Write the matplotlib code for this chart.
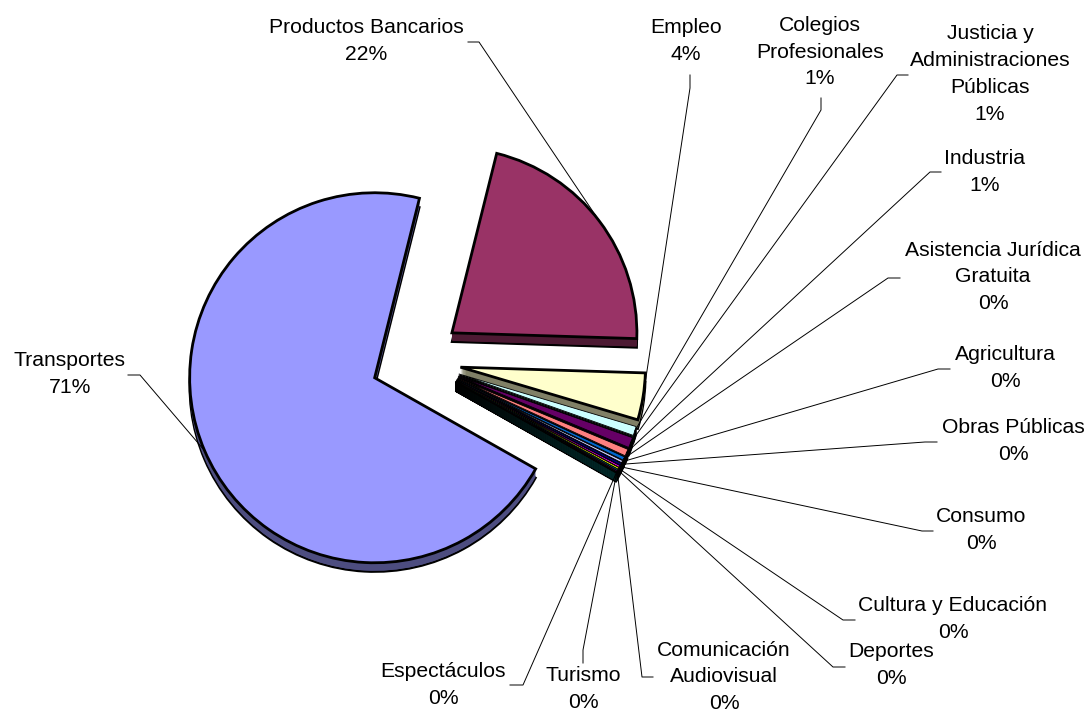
import numpy as np
import matplotlib.pyplot as plt
from matplotlib.patches import Wedge
from matplotlib.colors import to_rgb

# complaint share per sector (%)
categories = ['Transportes', 'Productos Bancarios', 'Empleo', 'Colegios\nProfesionales',
              'Justicia y\nAdministraciones\nPúblicas', 'Industria',
              'Asistencia Jurídica\nGratuita', 'Agricultura', 'Obras Públicas', 'Consumo',
              'Cultura y Educación', 'Deportes', 'Comunicación\nAudiovisual', 'Turismo',
              'Espectáculos']
shares = [70.7, 21.6, 4.1, 0.8, 0.9, 0.6, 0.3, 0.2, 0.2, 0.15, 0.15, 0.1, 0.1, 0.05, 0.05]
colors = ['#9999FF', '#993366', '#FFFFCC', '#CCFFFF', '#660066', '#FF8080', '#0066CC',
          '#CCCCFF', '#000080', '#FF00FF', '#FFFF00', '#00FFFF', '#800080', '#800000',
          '#008080']

# label block centres and leader-line elbows (pixel layout)
label_pos = [(70, 374), (366, 41), (686, 41), (820, 52), (990, 74), (985, 172),
             (993, 277), (1005, 368), (1013, 441), (981, 530), (953, 619), (891, 665),
             (724, 677), (583, 689), (443, 685)]
leader_elbows = [((128, 375), (140, 375)), ((468, 42), (479, 42)), ((690, 75), (690, 88)),
                 ((821, 98), (821, 110)), ((908, 75), (897, 75)), ((941, 172), (930, 172)),
                 ((900, 278), (888, 278)), ((950, 369), (938, 369)), ((937, 442), (925, 442)),
                 ((933, 531), (922, 531)), ((855, 620), (843, 620)), ((845, 667), (833, 667)),
                 ((653, 677), (642, 677)), ((583, 663), (583, 650)), ((510, 685), (523, 685))]

W, H = 1088, 716
cx, cy = 416, 360      # pie centre
radius = 185
explode = 45
depth = 9
start = 119.5          # degrees clockwise from 12 o'clock

fig = plt.figure(figsize=(W / 100, H / 100), dpi=100)
ax = fig.add_axes([0, 0, 1, 1])
ax.set_xlim(0, W)
ax.set_ylim(H, 0)
ax.set_aspect('equal')
ax.axis('off')

vals = np.array(shares)
spans = vals / vals.sum() * 360
a1 = start + np.concatenate([[0], np.cumsum(spans)[:-1]])
a2 = a1 + spans
mid = np.radians((a1 + a2) / 2)

centres = [(cx + explode * np.sin(m), cy - explode * np.cos(m)) for m in mid]

def dark(c):
    return tuple(v * 0.5 for v in to_rgb(c))

last = len(vals) - 1

# side walls: stacked copies pushed downward
for i in range(len(vals)):
    x0, y0 = centres[i]
    big = spans[i] > 10
    for k in range(depth, 0, -1):
        if big:
            ec, lw = ('black', 1.6) if k == depth else ('none', 0)
        elif i == last:
            ec, lw = ('black', 0.8) if k == depth else ('none', 0)
        else:
            ec, lw = 'black', 0.8
        ax.add_patch(Wedge((x0, y0 + k), radius, a1[i] - 90, a2[i] - 90,
                           facecolor=dark(colors[i]), edgecolor=ec, lw=lw))

# top faces
for i in range(len(vals)):
    x0, y0 = centres[i]
    lw = 2.0 if spans[i] > 10 else 0.6
    ax.add_patch(Wedge((x0, y0), radius, a1[i] - 90, a2[i] - 90,
                       facecolor=colors[i], edgecolor='black', lw=lw))

# labels with leader lines
pct = vals / vals.sum() * 100
for i, name in enumerate(categories):
    x0, y0 = centres[i]
    px = x0 + radius * np.sin(mid[i])
    py = y0 - radius * np.cos(mid[i])
    (ex, ey), (bx, by) = leader_elbows[i]
    ax.plot([ex, bx, px], [ey, by, py], color='black', lw=0.7)
    lx, ly = label_pos[i]
    ax.text(lx, ly, f'{name}\n{int(round(pct[i]))}%', ha='center', va='center',
            fontsize=15.2, family='Liberation Sans', linespacing=1.53)

fig.savefig('out.png', dpi=100)
